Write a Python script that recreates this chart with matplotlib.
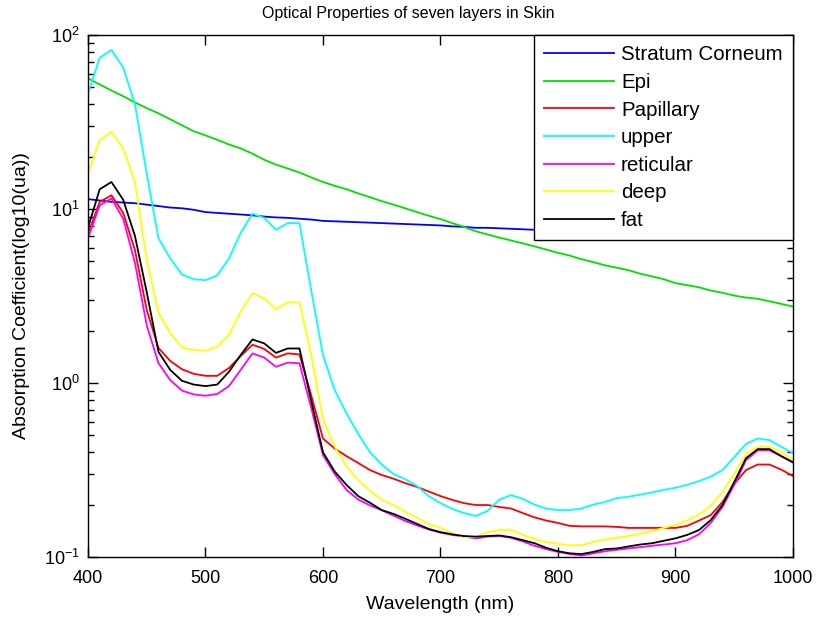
import matplotlib
matplotlib.use("Agg")
import matplotlib.pyplot as plt
from matplotlib.ticker import LogLocator, NullFormatter

plt.rcParams['font.family'] = ['Liberation Sans', 'DejaVu Sans']

# wavelength grid (10 nm steps)
wavelength = list(range(400, 1001, 10))

stratum = [11.4, 11.2, 11.0, 10.9, 10.8, 10.6, 10.4, 10.2, 10.1, 9.9,
           9.6, 9.5, 9.4, 9.3, 9.2, 9.05, 8.95, 8.9, 8.8, 8.7,
           8.55, 8.5, 8.45, 8.4, 8.35, 8.3, 8.25, 8.2, 8.15, 8.1,
           8.05, 7.95, 7.9, 7.8, 7.8, 7.75, 7.7, 7.65, 7.6, 7.55,
           7.5, 7.47, 7.44, 7.41, 7.38, 7.35, 7.32, 7.29, 7.26, 7.23,
           7.2, 7.17, 7.14, 7.11, 7.08, 7.05, 7.02, 6.99, 6.96, 6.93, 6.9]

epi = [56.4, 52, 48, 44.5, 41, 38, 35.5, 32.8, 30.3, 28,
       26.5, 25, 23.5, 22.3, 20.8, 19.2, 18, 17.1, 16.2, 15.2,
       14.3, 13.6, 13.0, 12.3, 11.7, 11.1, 10.6, 10.1, 9.6, 9.15,
       8.75, 8.3, 7.9, 7.45, 7.15, 6.85, 6.6, 6.35, 6.1, 5.85,
       5.6, 5.4, 5.15, 4.95, 4.75, 4.6, 4.45, 4.25, 4.1, 3.95,
       3.75, 3.65, 3.55, 3.4, 3.3, 3.18, 3.1, 3.05, 2.95, 2.85, 2.75]

papillary = [7.2, 11.0, 12.0, 9.5, 5.8, 2.63, 1.59, 1.34, 1.2, 1.13,
             1.10, 1.10, 1.22, 1.43, 1.66, 1.57, 1.40, 1.48, 1.46, 0.85,
             0.48, 0.42, 0.38, 0.347, 0.316, 0.296, 0.282, 0.266, 0.253, 0.238,
             0.224, 0.213, 0.204, 0.199, 0.199, 0.194, 0.19, 0.179, 0.169, 0.162,
             0.157, 0.151, 0.15, 0.15, 0.15, 0.149, 0.147, 0.147, 0.147, 0.147,
             0.147, 0.151, 0.162, 0.174, 0.207, 0.263, 0.316, 0.34, 0.34, 0.318, 0.292]

upper = [46, 74, 82, 65, 40, 16, 6.8, 5.2, 4.2, 3.95,
         3.9, 4.15, 5.2, 7.3, 9.4, 8.9, 7.6, 8.3, 8.3, 3.4,
         1.45, 0.91, 0.67, 0.51, 0.40, 0.34, 0.30, 0.28, 0.256, 0.224,
         0.204, 0.189, 0.179, 0.172, 0.184, 0.213, 0.227, 0.216, 0.20, 0.19,
         0.186, 0.186, 0.19, 0.20, 0.207, 0.218, 0.222, 0.228, 0.235, 0.243,
         0.25, 0.26, 0.273, 0.29, 0.316, 0.375, 0.446, 0.48, 0.47, 0.43, 0.396]

reticular = [6.8, 10.5, 11.5, 8.8, 4.9, 2.15, 1.30, 1.04, 0.905, 0.86,
             0.845, 0.865, 0.96, 1.19, 1.48, 1.40, 1.24, 1.31, 1.30, 0.72,
             0.385, 0.30, 0.243, 0.214, 0.198, 0.186, 0.173, 0.161, 0.152, 0.144,
             0.138, 0.134, 0.131, 0.128, 0.131, 0.132, 0.129, 0.123, 0.116, 0.111,
             0.107, 0.104, 0.102, 0.105, 0.108, 0.11, 0.112, 0.114, 0.116, 0.118,
             0.12, 0.125, 0.135, 0.157, 0.194, 0.26, 0.36, 0.41, 0.41, 0.38, 0.35]

deep = [16, 24.9, 27.8, 22.3, 14.3, 5.1, 2.53, 1.94, 1.60, 1.55,
        1.53, 1.62, 1.89, 2.57, 3.28, 3.07, 2.66, 2.91, 2.91, 1.45,
        0.62, 0.43, 0.333, 0.277, 0.24, 0.213, 0.199, 0.182, 0.168, 0.155,
        0.147, 0.137, 0.13, 0.13, 0.139, 0.143, 0.143, 0.134, 0.127, 0.122,
        0.119, 0.117, 0.117, 0.122, 0.126, 0.129, 0.132, 0.136, 0.141, 0.147,
        0.153, 0.162, 0.175, 0.196, 0.237, 0.30, 0.39, 0.43, 0.43, 0.40, 0.36]

fat = [7.8, 13.0, 14.3, 11.3, 7.0, 3.33, 1.51, 1.19, 1.03, 0.98,
       0.96, 0.98, 1.16, 1.45, 1.78, 1.69, 1.49, 1.58, 1.58, 0.79,
       0.40, 0.31, 0.26, 0.224, 0.205, 0.186, 0.177, 0.166, 0.155, 0.145,
       0.139, 0.135, 0.132, 0.131, 0.132, 0.133, 0.13, 0.125, 0.12, 0.113,
       0.108, 0.105, 0.104, 0.107, 0.111, 0.112, 0.115, 0.118, 0.12, 0.124,
       0.128, 0.134, 0.143, 0.163, 0.199, 0.27, 0.37, 0.417, 0.417, 0.38, 0.35]

series = [("Stratum Corneum", stratum, "#0000ff"),
          ("Epi", epi, "#00e000"),
          ("Papillary", papillary, "#ff0000"),
          ("upper", upper, "#00ffff"),
          ("reticular", reticular, "#ff00ff"),
          ("deep", deep, "#ffff00"),
          ("fat", fat, "#000000")]

fig = plt.figure(figsize=(8.16, 6.17), dpi=100)
ax = fig.add_axes([0.1078, 0.0972, 0.864, 0.846])

for name, vals, col in series:
    ax.plot(wavelength, vals, color=col, linewidth=1.3, label=name)

ax.set_yscale('log')
ax.set_xlim(400, 1000)
ax.set_ylim(0.1, 100)
ax.set_xticks(range(400, 1001, 100))
ax.yaxis.set_minor_locator(LogLocator(base=10, subs=range(2, 10)))
ax.yaxis.set_minor_formatter(NullFormatter())
ax.tick_params(which='both', direction='in', top=True, right=True, labelsize=13)
ax.tick_params(which='major', length=7, width=1)
ax.tick_params(which='minor', length=4, width=1)
ax.tick_params(axis='x', which='major', pad=9)
ax.tick_params(axis='y', which='major', pad=6)
for s in ax.spines.values():
    s.set_linewidth(1)

# title centred on the figure like the original
fig.text(0.5, 0.978, "Optical Properties of seven layers in Skin",
         fontsize=11.5, ha='center', va='center')
ax.set_xlabel("Wavelength (nm)", fontsize=14, labelpad=7)
ax.set_ylabel("Absorption Coefficient(log10(ua))", fontsize=14, labelpad=10)

leg = ax.legend(loc='upper right', fontsize=14.8, fancybox=False, framealpha=1,
                edgecolor='black', borderaxespad=0, handlelength=3.4,
                handletextpad=0.35, labelspacing=0.42, borderpad=0.5)
leg.get_frame().set_linewidth(1)

plt.savefig("out.png")
